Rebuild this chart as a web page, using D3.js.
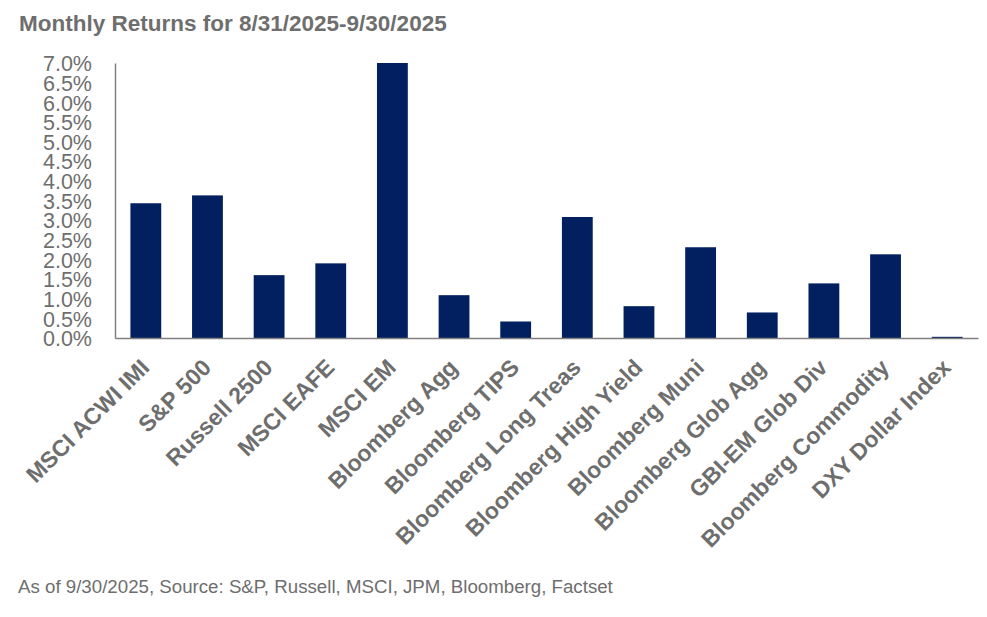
<!DOCTYPE html>
<html>
<head>
<meta charset="utf-8">
<script src="https://cdn.jsdelivr.net/npm/d3@7"></script>
<style>
  html, body { margin: 0; padding: 0; background: #ffffff; }
  svg { display: block; font-family: "Liberation Sans", Arial, Helvetica, sans-serif; }
</style>
</head>
<body>
<svg id="chart" width="987" height="617"></svg>
<script>
const categories = [
  "MSCI ACWI IMI", "S&P 500", "Russell 2500", "MSCI EAFE", "MSCI EM",
  "Bloomberg Agg", "Bloomberg TIPS", "Bloomberg Long Treas", "Bloomberg High Yield",
  "Bloomberg Muni", "Bloomberg Glob Agg", "GBI-EM Glob Div", "Bloomberg Commodity",
  "DXY Dollar Index"
];
const returnsPct = [3.43, 3.63, 1.60, 1.90, 7.0, 1.09, 0.42, 3.08, 0.81, 2.31, 0.65, 1.39, 2.13, 0.03];
const yTicks = [0, 0.5, 1, 1.5, 2, 2.5, 3, 3.5, 4, 4.5, 5, 5.5, 6, 6.5, 7];
const titleText = "Monthly Returns for 8/31/2025-9/30/2025";
const footerText = "As of 9/30/2025, Source: S&P, Russell, MSCI, JPM, Bloomberg, Factset";

(function () {
const svg = d3.select("#chart");
const grey = "#6e6e6e";
const barColor = "#02205f";

const plotLeft = 115, plotRight = 978, plotTop = 63, plotBase = 338;

const x = d3.scaleBand().domain(categories).range([plotLeft, plotRight]).paddingInner(0.5).paddingOuter(0.25);
const y = d3.scaleLinear().domain([0, 7]).range([plotBase, plotTop]);

// title
svg.append("text")
  .attr("x", 19).attr("y", 31)
  .attr("fill", grey)
  .attr("font-size", "22.5px")
  .attr("font-weight", "bold")
  .text(titleText);

// bars
svg.append("g").selectAll("rect")
  .data(categories.map((c, i) => ({ c, v: returnsPct[i] })))
  .join("rect")
  .attr("x", d => x(d.c))
  .attr("width", x.bandwidth())
  .attr("y", d => y(d.v))
  .attr("height", d => y(0) - y(d.v))
  .attr("fill", barColor);

// y axis
const yAxis = svg.append("g")
  .attr("transform", `translate(${plotLeft},0)`)
  .call(d3.axisLeft(y).tickValues(yTicks).tickSize(0).tickPadding(23).tickFormat(d => d3.format(".1f")(d) + "%"));
yAxis.select(".domain").attr("stroke", "#808080").attr("stroke-width", 1.5);
yAxis.selectAll("text")
  .attr("fill", grey)
  .attr("font-size", "21.5px")
  .attr("font-family", "Liberation Sans, Arial, sans-serif")
  .attr("dy", "0.36em");

// x axis
const xAxis = svg.append("g")
  .attr("transform", `translate(0,${plotBase})`)
  .call(d3.axisBottom(x).tickSize(0).tickSizeOuter(0).tickFormat(""));
xAxis.select(".domain").attr("stroke", "#808080").attr("stroke-width", 1.5);

// rotated category labels
svg.append("g").selectAll("text")
  .data(categories)
  .join("text")
  .attr("transform", d => `translate(${x(d) + x.bandwidth() / 2 + 5},${plotBase + 31}) rotate(-45)`)
  .attr("text-anchor", "end")
  .attr("fill", grey)
  .attr("font-size", "23px")
  .attr("font-weight", "bold")
  .text(d => d);

// footer
svg.append("text")
  .attr("x", 18).attr("y", 593)
  .attr("fill", grey)
  .attr("font-size", "18.7px")
  .text(footerText);
})();
</script>
</body>
</html>
